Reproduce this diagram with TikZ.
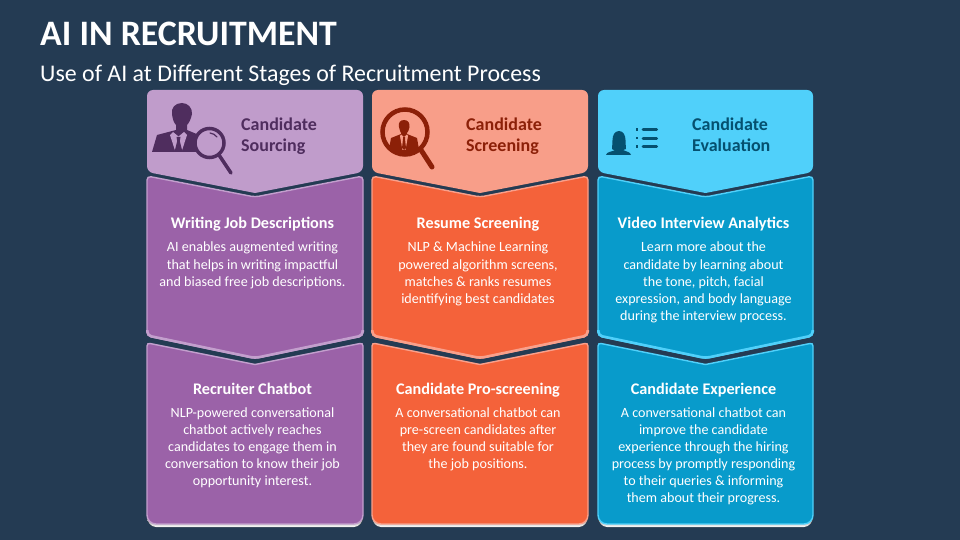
\documentclass[tikz,border=0pt]{standalone}
\usepackage{fontspec}
\setmainfont{Carlito}
\definecolor{bg}{HTML}{243B53}
\definecolor{pfill}{HTML}{9B62A8}\definecolor{pline}{HTML}{C39FCD}\definecolor{phead}{HTML}{C09CCB}\definecolor{ptext}{HTML}{4F2D5E}
\definecolor{ofill}{HTML}{F4623A}\definecolor{oline}{HTML}{F9A08B}\definecolor{ohead}{HTML}{F89E89}\definecolor{otext}{HTML}{8C2008}
\definecolor{bfill}{HTML}{089BCB}\definecolor{bline}{HTML}{50D0FA}\definecolor{bhead}{HTML}{50D0FA}\definecolor{btext}{HTML}{05506F}
\definecolor{shade}{HTML}{1E3247}
\tikzset{
  x=1pt,y=-1pt,
  maintitle/.style={anchor=west,text=white,font=\bfseries\fontsize{35.8}{40}\selectfont,inner sep=0},
  subtitle/.style={anchor=west,text=white,font=\fontsize{23.9}{28}\selectfont,inner sep=0},
  headlabel/.style={anchor=north west,align=left,inner sep=0,font=\bfseries\fontsize{18}{21}\selectfont},
  cardtitle/.style={text=white,inner sep=0,anchor=base,font=\bfseries\fontsize{16.2}{19}\selectfont},
  cardbody/.style={text=white,inner sep=0,align=center,anchor=north,font=\fontsize{14.1}{17.1}\selectfont},
  panelline/.style={line width=1.4pt},
}
% x1 x2 topside toptip botside bottip fill line
\newcommand{\bodypanel}[8]{%
  \filldraw[fill=#7,draw=#8,panelline,rounded corners=4pt] (#1,#3) -- (#1/2+#2/2,#4) -- (#2,#3) -- (#2,#5) -- (#1/2+#2/2,#6) -- (#1,#5) -- cycle;
  \draw[#8,line width=2.6pt,rounded corners=4pt] (#2-0.3,#5-6) -- (#2-0.3,#5-0.5) -- (#1/2+#2/2,#6-0.5) -- (#1+0.3,#5-0.5) -- (#1+0.3,#5-6);
}
% x1 x2 topside toptip bottom fill line
\newcommand{\lastpanel}[7]{%
  \fill[shade] (#1,#5-7) .. controls (#1,#5-2) and (#1+4,#5+3) .. (#1+9,#5+3) -- (#2-9,#5+3) .. controls (#2-4,#5+3) and (#2,#5-2) .. (#2,#5-7) -- cycle;
  \filldraw[fill=#6,draw=#7,panelline] (#1,#3+3) .. controls (#1,#3+1) and (#1+1.5,#3-0.2) .. (#1+3.5,#3+0.6) -- (#1/2+#2/2,#4) -- (#2-3.5,#3+0.6) .. controls (#2-1.5,#3-0.2) and (#2,#3+1) .. (#2,#3+3) -- (#2,#5-9) .. controls (#2,#5-4) and (#2-4,#5) .. (#2-9,#5) -- (#1+9,#5) .. controls (#1+4,#5) and (#1,#5-4) .. (#1,#5-9) -- cycle;
}
\newcommand{\headpanel}[4]{%
  \fill[#3,rounded corners=6pt] (#1,#4) -- (#2,#4) -- (#2,172) [rounded corners=1pt] -- (#1/2+#2/2,193) [rounded corners=6pt] -- (#1,172) -- cycle;
}
\begin{document}
\begin{tikzpicture}
\useasboundingbox (0,0) rectangle (960,540);
\fill[bg] (0,0) rectangle (960,540);
\node[maintitle] (title) at (40,34) {AI IN RECRUITMENT};
\node[subtitle] (sub) at (40,75) {Use of AI at Different Stages of Recruitment Process};

% ---- lower panels first, upper chevrons overlap
\lastpanel{147}{363}{343}{364.5}{524}{pfill}{pline}
\lastpanel{372}{588}{343}{364.5}{524}{ofill}{oline}
\lastpanel{598}{813}{343}{364.5}{524}{bfill}{bline}
\bodypanel{147}{363}{176}{197}{336}{358.5}{pfill}{pline}
\bodypanel{372}{588}{176}{197}{336}{358.5}{ofill}{oline}
\bodypanel{598}{813}{176}{197}{336}{358.5}{bfill}{bline}
\headpanel{147}{363}{phead}{90}
\headpanel{372}{588}{ohead}{90}
\headpanel{598}{813}{bhead}{90}

% ---- icon 1: man and magnifier
\fill[ptext] (182,103) .. controls (175,103) and (171,108) .. (172,114) .. controls (172.5,119) and (174,123) .. (176,125) -- (176,130) -- (157,135) -- (152,152) -- (205,152) -- (199,135) -- (187,130) -- (187,125) .. controls (189,123) and (191,119) .. (192,114) .. controls (192.5,108) and (188,103) .. (182,103) -- cycle;
\fill[phead] (173,132) -- (178.5,136.5) -- (184,132) -- (187,135) -- (181.5,152) -- (175.5,152) -- (170,135) -- cycle;
\fill[ptext] (176.5,137) -- (180.5,137) -- (179.8,141) -- (182.5,152) -- (174.5,152) -- (177.2,141) -- cycle;
\filldraw[fill=phead,draw=ptext,line width=3.5pt] (209.5,143) circle (14.5);
\draw[ptext,line width=3.5pt,line cap=round] (219,155) -- (231,173);
\draw[ptext,line width=1.2pt,line cap=round] (210,133) .. controls (213,133.5) and (215,134.5) .. (217,137);

% ---- icon 2: magnifier with man
\draw[otext,line width=4.5pt] (405,132) circle (22.5);
\draw[otext,line width=5pt,line cap=round] (421,150) -- (432,167);
\draw[ohead,line width=1.2pt,line cap=round] (408,116) .. controls (413,117) and (417,119) .. (420,123);
\begin{scope}
  \clip (405,132) circle (22);
  \fill[otext] (404,120) .. controls (400,120) and (398,123) .. (399,127) .. controls (399.5,130) and (400.5,132) .. (401,133) -- (401,134) -- (391,138) -- (388,155) -- (420,155) -- (417,138) -- (407,134) -- (407,133) .. controls (408,132) and (409,130) .. (409.5,127) .. controls (410,123) and (408,120) .. (404,120) -- cycle;
\end{scope}
\fill[ohead] (401,134.5) -- (404,137) -- (407,134.5) -- (408,136) -- (405.5,150) -- (402.5,150) -- (400,136) -- cycle;
\fill[otext] (403,137) -- (405,137) -- (405,139) -- (406,148) -- (404,150) -- (402,148) -- (403,139) -- cycle;

% ---- icon 3: woman and list
\fill[btext] (619,131) .. controls (615,131) and (612.5,135) .. (612.5,140) .. controls (612.5,144) and (612,147) .. (612,149) .. controls (613,150) and (614.5,150) .. (615,150) .. controls (612,152) and (606.5,151.5) .. (606,155) -- (631,155) .. controls (630.5,151.5) and (626,152) .. (623,150) .. controls (624,150) and (625,150) .. (626,149) .. controls (626,147) and (625.5,144) .. (625.5,140) .. controls (625.5,135) and (623,131) .. (619,131) -- cycle;
\fill[btext] (635.5,128.5) rectangle (638,131);
\fill[btext] (635.5,137) rectangle (638,139.5);
\fill[btext] (635.5,145.5) rectangle (638,148);
\draw[btext,line width=3pt,line cap=round] (643,130) -- (656.5,130);
\draw[btext,line width=3pt,line cap=round] (643,138.5) -- (656.5,138.5);
\draw[btext,line width=3pt,line cap=round] (643,147) -- (656.5,147);

% ---- header labels
\node[headlabel,text=ptext] (h1) at (241,117.5) {Candidate\\Sourcing};
\node[headlabel,text=otext] (h2) at (466,117.5) {Candidate\\Screening};
\node[headlabel,text=btext] (h3) at (692,117.5) {Candidate\\Evaluation};

% ---- column 1
\node[cardtitle] (t11) at (252.5,228) {Writing Job Descriptions};
\node[cardbody] (b11) at (252.5,242) {AI enables augmented writing\\that helps in writing impactful\\and biased free job descriptions.};
\node[cardtitle] (t12) at (252.5,394) {Recruiter Chatbot};
\node[cardbody] (b12) at (252.5,407.5) {NLP-powered conversational\\chatbot actively reaches\\candidates to engage them in\\conversation to know their job\\opportunity interest.};
% ---- column 2
\node[cardtitle] (t21) at (478,228) {Resume Screening};
\node[cardbody] (b21) at (478,242) {NLP \& Machine Learning\\powered algorithm screens,\\matches \& ranks resumes\\identifying best candidates};
\node[cardtitle] (t22) at (478,394) {Candidate Pro-screening};
\node[cardbody] (b22) at (478,407.5) {A conversational chatbot can\\pre-screen candidates after\\they are found suitable for\\the job positions.};
% ---- column 3
\node[cardtitle] (t31) at (703.5,228) {Video Interview Analytics};
\node[cardbody] (b31) at (703.5,242) {Learn more about the\\candidate by learning about\\the tone, pitch, facial\\expression, and body language\\during the interview process.};
\node[cardtitle] (t32) at (703.5,394) {Candidate Experience};
\node[cardbody] (b32) at (703.5,407.5) {A conversational chatbot can\\improve the candidate\\experience through the hiring\\process by promptly responding\\to their queries \& informing\\them about their progress.};
\end{tikzpicture}
\end{document}
